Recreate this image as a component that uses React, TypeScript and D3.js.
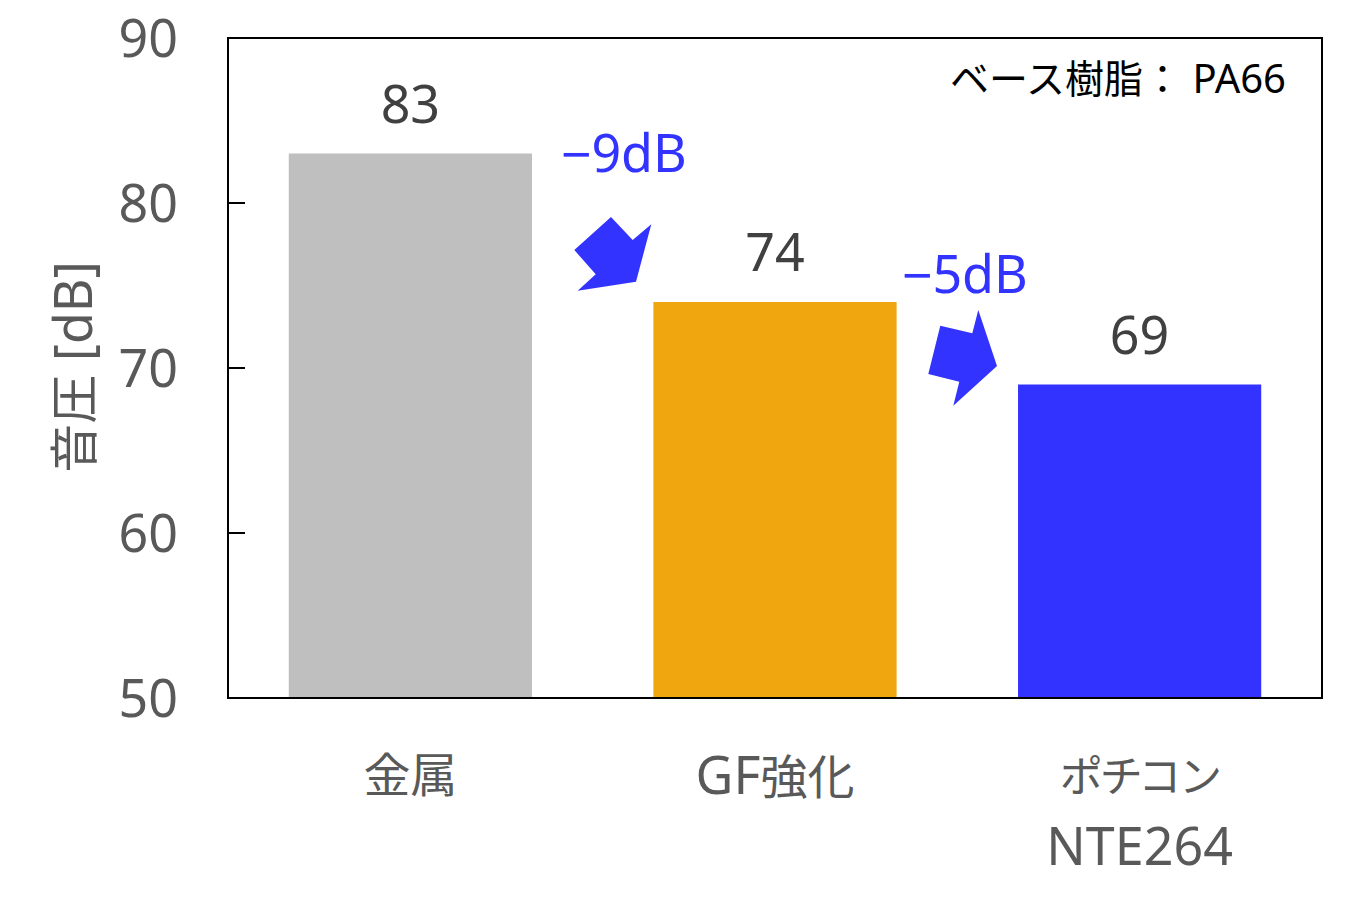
import React from "react";
import * as d3 from "d3";

const categories = ["金属", "GF強化", "ポチコン"];
const values = [83, 74, 69];
const barColors = ["#BFBFBF", "#F0A60F", "#3333FF"];
const yTicks = [50, 60, 70, 80, 90];
const deltas = ["9dB", "5dB"];

const W = 1372;
const H = 905;
const LATIN = "'Noto Sans', 'Noto Sans CJK JP', sans-serif";
const CJK = "'Noto Sans CJK JP', 'Noto Sans', sans-serif";

// decorative block arrows (annotation shapes)
const arrow1: [number, number][] = [
  [611, 217], [632.7, 240], [651.3, 224.3], [636, 281.7], [577.7, 290.7], [595.7, 274.3], [574.3, 250],
];
const arrow2: [number, number][] = [
  [940.3, 325.7], [972.3, 333.3], [978.3, 310], [997, 366], [953.3, 405.7], [959.3, 381.7], [928.3, 374],
];

export default function App() {
  const plot = { left: 228, right: 1322, top: 38, bottom: 698 };
  const y = d3.scaleLinear().domain([50, 90]).range([plot.bottom, plot.top]);
  const x = d3
    .scaleBand<string>()
    .domain(categories)
    .range([plot.left, plot.right])
    .paddingInner(0.333)
    .paddingOuter(0.1667);
  const line = d3.line();

  return (
    <svg
      width={W}
      height={H}
      style={{ position: "absolute", left: 0, top: 0, background: "#fff" }}
    >
      {/* bars */}
      {categories.map((c, i) => (
        <rect
          key={c}
          x={x(c)!}
          y={y(values[i])}
          width={x.bandwidth()}
          height={y(50) - y(values[i])}
          fill={barColors[i]}
        />
      ))}

      {/* frame */}
      <rect
        x={plot.left}
        y={plot.top}
        width={plot.right - plot.left}
        height={plot.bottom - plot.top}
        fill="none"
        stroke="#000"
        strokeWidth={2}
      />

      {/* y ticks + labels */}
      {yTicks.map((t) => (
        <g key={t}>
          {t !== 50 && t !== 90 && (
            <line x1={plot.left} x2={plot.left + 17} y1={y(t)} y2={y(t)} stroke="#000" strokeWidth={2} />
          )}
          <text
            x={178}
            y={y(t) + 18.5}
            textAnchor="end"
            fontFamily={LATIN}
            fontSize={52}
            fill="#595959"
          >
            {t}
          </text>
        </g>
      ))}

      {/* y axis title */}
      <text
        transform={`translate(92,367) rotate(-90)`}
        textAnchor="middle"
        fill="#595959"
      >
        <tspan fontFamily={CJK} fontSize={49}>音圧</tspan>
        <tspan fontFamily={LATIN} fontSize={52}> [dB]</tspan>
      </text>

      {/* value labels */}
      {categories.map((c, i) => (
        <text
          key={c}
          x={x(c)! + x.bandwidth() / 2}
          y={y(values[i]) - 31}
          textAnchor="middle"
          fontFamily={LATIN}
          fontSize={52}
          fill="#404040"
        >
          {values[i]}
        </text>
      ))}

      {/* category labels */}
      <text
        x={x(categories[0])! + x.bandwidth() / 2}
        y={792}
        textAnchor="middle"
        fontFamily={CJK}
        fontSize={47}
        fill="#595959"
      >
        {categories[0]}
      </text>
      <text
        x={x(categories[1])! + x.bandwidth() / 2}
        y={794}
        textAnchor="middle"
        fill="#595959"
      >
        <tspan fontFamily={LATIN} fontSize={52}>GF</tspan>
        <tspan fontFamily={CJK} fontSize={47}>強化</tspan>
      </text>
      <text
        x={x(categories[2])! + x.bandwidth() / 2}
        y={792}
        textAnchor="middle"
        fontFamily={CJK}
        fontSize={43}
        fill="#595959"
        style={{ fontFeatureSettings: '"palt"' }}
      >
        {categories[2]}
      </text>
      <text
        x={x(categories[2])! + x.bandwidth() / 2}
        y={865}
        textAnchor="middle"
        fontFamily={LATIN}
        fontSize={52}
        fill="#595959"
      >
        NTE264
      </text>

      {/* base resin note */}
      <text x={1286} y={93} textAnchor="end" fill="#000">
        <tspan fontFamily={CJK} fontSize={39}>ベース樹脂：</tspan>
        <tspan fontFamily={LATIN} fontSize={40}>{"  PA66"}</tspan>
      </text>

      {/* delta annotations */}
      <text x={561} y={172} fill="#3333FF">
        <tspan fontFamily="'Liberation Sans', sans-serif" fontSize={52}>−</tspan>
        <tspan fontFamily={LATIN} fontSize={52}>{deltas[0]}</tspan>
      </text>
      <text x={902} y={293} fill="#3333FF">
        <tspan fontFamily="'Liberation Sans', sans-serif" fontSize={52}>−</tspan>
        <tspan fontFamily={LATIN} fontSize={52}>{deltas[1]}</tspan>
      </text>
      <path d={line(arrow1)! + "Z"} fill="#3333FF" />
      <path d={line(arrow2)! + "Z"} fill="#3333FF" />
    </svg>
  );
}
